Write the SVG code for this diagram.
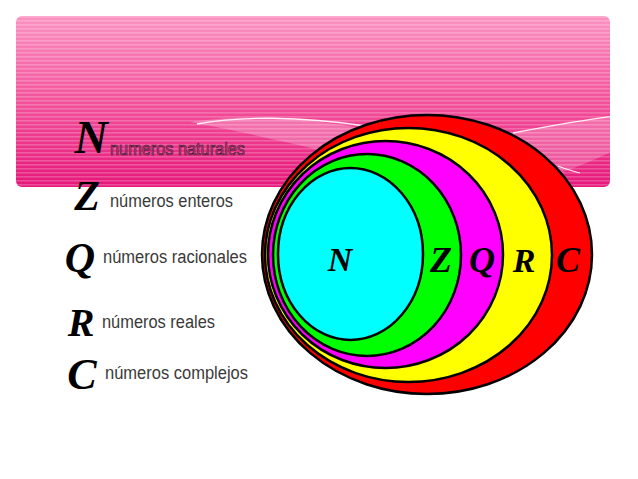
<svg xmlns="http://www.w3.org/2000/svg" width="638" height="479" viewBox="0 0 638 479">
<defs>
<linearGradient id="bg" x1="0" y1="0" x2="0" y2="1">
<stop offset="0" stop-color="#fb93c2"/>
<stop offset="0.5" stop-color="#f2529b"/>
<stop offset="1" stop-color="#e6177a"/>
</linearGradient>
<pattern id="stripes" x="0" y="16" width="8" height="4" patternUnits="userSpaceOnUse">
<rect x="0" y="0" width="8" height="1.6" fill="#ffffff" fill-opacity="0.22"/>
</pattern>
<clipPath id="bannerClip"><rect x="16" y="16" width="594" height="171" rx="6"/></clipPath>
</defs>
<style>
.set{stroke:#000;stroke-width:2.5}
.scr{font-family:"Liberation Serif","DejaVu Serif",serif;font-style:italic;font-weight:bold;fill:#000}
.leg{font-family:"Liberation Sans",Arial,sans-serif;font-size:18px;fill:#3a3a3a}
</style>
<rect width="638" height="479" fill="#ffffff"/>
<g id="banner">
<rect x="16" y="16" width="594" height="171" rx="6" fill="url(#bg)"/>
<rect x="16" y="16" width="594" height="171" rx="6" fill="url(#stripes)"/>
<g clip-path="url(#bannerClip)">
<path d="M190,122 C260,112 320,120 370,130 L380,165 C320,150 260,135 190,122 Z" fill="#ffffff" fill-opacity="0.25"/>
<path d="M197,124 C240,116 300,116 365,126" fill="none" stroke="#ffffff" stroke-width="1.3" stroke-opacity="0.9"/>
<path d="M510,134 C560,124 590,120 615,116 L615,150 C590,162 570,170 545,178 C560,160 540,150 510,134 Z" fill="#ffffff" fill-opacity="0.22"/>
<path d="M513,133 C560,124 590,119 615,116" fill="none" stroke="#ffffff" stroke-width="1.3" stroke-opacity="0.9"/>
<path d="M558,166 C565,169 572,171 580,173" fill="none" stroke="#ffffff" stroke-width="1.2" stroke-opacity="0.9"/>
</g>
</g>
<g id="set-C">
<ellipse class="set" cx="427" cy="254.5" rx="165" ry="139.5" fill="#ff0000"/>
<text class="scr" x="568" y="272" font-size="36" text-anchor="middle">C</text>
</g>
<g id="set-R">
<ellipse class="set" cx="408.5" cy="255" rx="143.5" ry="127" fill="#ffff00"/>
<text class="scr" x="524" y="272" font-size="34" text-anchor="middle">R</text>
</g>
<g id="set-Q">
<ellipse class="set" cx="385.5" cy="254.5" rx="117.5" ry="113.5" fill="#ff00ff"/>
<text class="scr" x="482" y="272" font-size="36" text-anchor="middle">Q</text>
</g>
<g id="set-Z">
<ellipse class="set" cx="367" cy="255" rx="94" ry="101" fill="#00ff00"/>
<text class="scr" x="441" y="272" font-size="36" text-anchor="middle">Z</text>
</g>
<g id="set-N">
<ellipse class="set" cx="350.5" cy="254" rx="72.5" ry="86" fill="#00ffff"/>
<text class="scr" x="340" y="271" font-size="34" text-anchor="middle">N</text>
</g>
<g id="legend-N">
<text class="scr" x="91" y="153" font-size="46" text-anchor="middle">N</text>
<text x="110" y="155" font-family="Liberation Sans Narrow,Liberation Sans,Arial,sans-serif" font-size="19" textLength="135" lengthAdjust="spacingAndGlyphs" fill="#e23a86" stroke="#3a2030" stroke-width="0.7">numeros naturales</text>
</g>
<g id="legend-Z">
<text class="scr" x="87" y="210" font-size="42" text-anchor="middle">Z</text>
<text class="leg" x="110" y="207" textLength="123" lengthAdjust="spacingAndGlyphs">números enteros</text>
</g>
<g id="legend-Q">
<text class="scr" x="80" y="272" font-size="42" text-anchor="middle">Q</text>
<text class="leg" x="103" y="263" textLength="144" lengthAdjust="spacingAndGlyphs">números racionales</text>
</g>
<g id="legend-R">
<text class="scr" x="81" y="336" font-size="40" text-anchor="middle">R</text>
<text class="leg" x="102" y="328" textLength="113" lengthAdjust="spacingAndGlyphs">números reales</text>
</g>
<g id="legend-C">
<text class="scr" x="82" y="389" font-size="44" text-anchor="middle">C</text>
<text class="leg" x="105" y="379" textLength="143" lengthAdjust="spacingAndGlyphs">números complejos</text>
</g>
</svg>
